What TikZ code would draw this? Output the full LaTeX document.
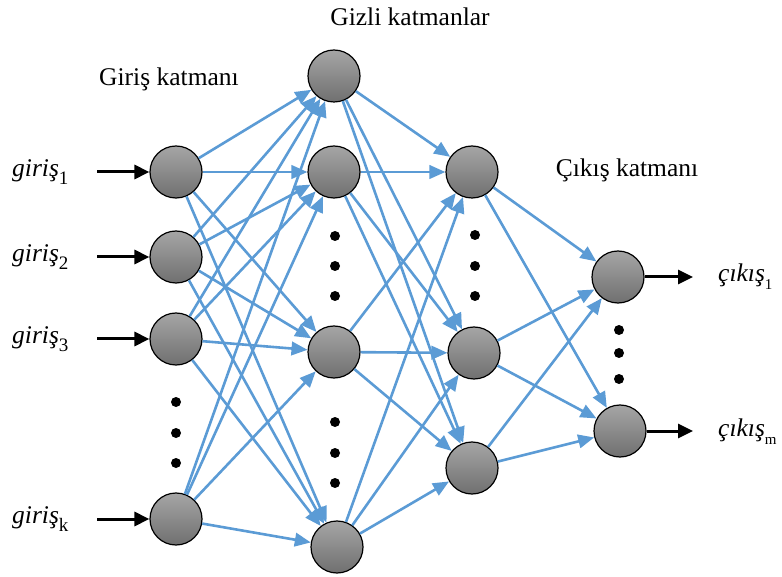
\documentclass[tikz,border=0pt]{standalone}
\usepackage{fontspec}
\setmainfont{Liberation Serif}
\usetikzlibrary{arrows.meta, positioning}

\definecolor{linkblue}{RGB}{91,155,213}
\definecolor{nodetop}{RGB}{165,165,165}
\definecolor{nodebottom}{RGB}{112,112,112}

\newcommand{\lowsub}[2]{\raisebox{-0.32em}{\fontsize{#1}{#1}\selectfont #2}}

\tikzset{
    neuron/.style={circle, draw=black, line width=1.2pt, minimum size=52pt, inner sep=0pt,
        top color=nodetop, bottom color=nodebottom},
    vdot/.style={circle, fill=black, minimum size=10pt, inner sep=0pt},
    link/.style={draw=linkblue, line width=2.6pt, -{Triangle[length=16pt, width=13.5pt]}},
    io/.style={draw=black, line width=3pt, -{Triangle[length=15pt, width=14pt]}},
    title/.style={font=\fontsize{25.5}{30}\selectfont},
    iolabel/.style={font=\fontsize{25.5}{30}\selectfont, inner sep=0pt}
}

\begin{document}
\begin{tikzpicture}[x=1pt, y=-1pt]
    \useasboundingbox (0, 0) rectangle (782, 577);

    % titles
    \node[title] (tHidden) at (410, 17) {Gizli katmanlar};
    \node[title] (tInput) at (169, 79) {Giriş katmanı};
    \node[title] (tOutput) at (627, 170) {Çıkış katmanı};

    % input layer
    \node[neuron] (i1) at (176, 172) {};
    \node[neuron] (i2) at (176, 257) {};
    \node[neuron] (i3) at (176, 339) {};
    \node[neuron] (ik) at (176, 519) {};
    \node[vdot] (di1) at (176, 402) {};
    \node[vdot] (di2) at (176, 433) {};
    \node[vdot] (di3) at (176, 463) {};

    % first hidden layer
    \node[neuron] (a1) at (334, 76) {};
    \node[neuron] (a2) at (334, 172) {};
    \node[neuron] (a3) at (334, 352) {};
    \node[neuron] (a4) at (337, 547) {};
    \node[vdot] (da1) at (335, 236) {};
    \node[vdot] (da2) at (335, 266) {};
    \node[vdot] (da3) at (335, 296) {};
    \node[vdot] (da4) at (335, 422) {};
    \node[vdot] (da5) at (335, 453) {};
    \node[vdot] (da6) at (335, 483) {};

    % second hidden layer
    \node[neuron] (b1) at (472, 172) {};
    \node[neuron] (b2) at (474, 353) {};
    \node[neuron] (b3) at (472, 468) {};
    \node[vdot] (db1) at (475, 235) {};
    \node[vdot] (db2) at (475, 266) {};
    \node[vdot] (db3) at (475, 296) {};

    % output layer
    \node[neuron] (o1) at (618, 277) {};
    \node[neuron] (om) at (620, 431) {};
    \node[vdot] (do1) at (619, 330) {};
    \node[vdot] (do2) at (619, 353) {};
    \node[vdot] (do3) at (619, 379) {};

    % input and output labels
    \node[iolabel, anchor=west] (l1) at (12, 172) {\textit{giriş}\lowsub{19}{1}};
    \node[iolabel, anchor=west] (l2) at (12, 257) {\textit{giriş}\lowsub{19}{2}};
    \node[iolabel, anchor=west] (l3) at (12, 339) {\textit{giriş}\lowsub{19}{3}};
    \node[iolabel, anchor=west] (lk) at (12, 519) {\textit{giriş}\lowsub{19}{k}};
    \node[iolabel, anchor=west] (r1) at (718, 277) {\textit{çıkış}\lowsub{15}{1}};
    \node[iolabel, anchor=west] (rm) at (718, 432) {\textit{çıkış}\lowsub{15}{m}};

    \coordinate (x1) at (97, 172);
    \coordinate (x2) at (97, 257);
    \coordinate (x3) at (97, 339);
    \coordinate (xk) at (97, 519);
    \coordinate (y1) at (693, 277);
    \coordinate (ym) at (693, 431);

    \draw[io] (x1) -- (i1);
    \draw[io] (x2) -- (i2);
    \draw[io] (x3) -- (i3);
    \draw[io] (xk) -- (ik);
    \draw[io] (o1) -- (y1);
    \draw[io] (om) -- (ym);

    % input -> first hidden
    \draw
    (i1) edge[link] (a1) (i1) edge[link] (a2) (i1) edge[link] (a3) (i1) edge[link] (a4)
    (i2) edge[link] (a1) (i2) edge[link] (a2) (i2) edge[link] (a3) (i2) edge[link] (a4)
    (i3) edge[link] (a1) (i3) edge[link] (a2) (i3) edge[link] (a3) (i3) edge[link] (a4)
    (ik) edge[link] (a1) (ik) edge[link] (a2) (ik) edge[link] (a3) (ik) edge[link] (a4);

    % first hidden -> second hidden
    \draw
    (a1) edge[link] (b1) (a1) edge[link] (b2) (a1) edge[link] (b3)
    (a2) edge[link] (b1) (a2) edge[link] (b2) (a2) edge[link] (b3)
    (a3) edge[link] (b1) (a3) edge[link] (b2) (a3) edge[link] (b3)
    (a4) edge[link] (b1) (a4) edge[link] (b2) (a4) edge[link] (b3);

    % second hidden -> output
    \draw
    (b1) edge[link] (o1) (b1) edge[link] (om)
    (b2) edge[link] (o1) (b2) edge[link] (om)
    (b3) edge[link] (o1) (b3) edge[link] (om);
\end{tikzpicture}
\end{document}
